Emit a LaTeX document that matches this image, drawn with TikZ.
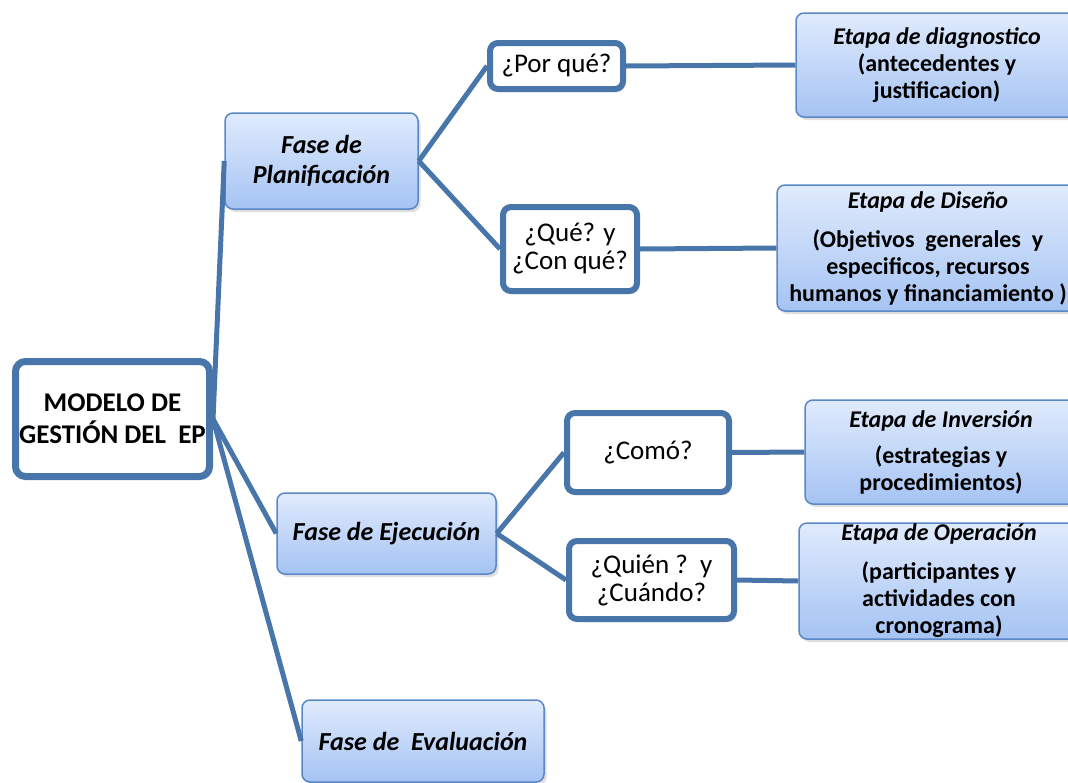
\documentclass[tikz,border=0pt]{standalone}
\usepackage{fontspec}
\setmainfont{Carlito}
\usetikzlibrary{shadows}
\definecolor{linkblue}{RGB}{72,117,170}
\definecolor{paleblue}{RGB}{224,235,253}
\definecolor{midblue}{RGB}{165,195,243}
\definecolor{rimblue}{RGB}{90,135,198}

\begin{document}
\begin{tikzpicture}[x=1pt,y=-1pt]
    \tikzstyle{every node}+=[inner sep=0pt, align=center]
    \tikzstyle{boxshadow}=[drop shadow={opacity=0.25, shadow xshift=2.5pt, shadow yshift=-3pt}]
    \tikzstyle{mainbox}=[draw=linkblue, line width=7pt, fill=white, rounded corners=10pt, boxshadow, font=\fontsize{27}{32}\selectfont\bfseries]
    \tikzstyle{askbox}=[draw=linkblue, line width=6pt, fill=white, rounded corners=8pt, boxshadow, font=\fontsize{27}{28}\selectfont]
    \tikzstyle{phasebox}=[draw=rimblue, line width=1.5pt, top color=paleblue, bottom color=midblue, rounded corners=8pt, boxshadow, font=\fontsize{26}{30}\selectfont\bfseries\itshape]
    \tikzstyle{stagebox}=[draw=rimblue, line width=1.5pt, top color=paleblue, bottom color=midblue, rounded corners=8pt, boxshadow, font=\fontsize{24}{27}\selectfont\bfseries]
    \tikzstyle{link}=[draw=linkblue, line width=5pt]
    \useasboundingbox (0,0) rectangle (1068,782);
    \node [mainbox, minimum width=194pt, minimum height=115pt] (modelo) at (112.5,419) {MODELO DE\\GESTIÓN DEL~~EP};
    \node [phasebox, minimum width=193pt, minimum height=96pt] (plan) at (321.5,161) {Fase de\\Planificación};
    \node [phasebox, minimum width=219pt, minimum height=81pt] (ejec) at (386.5,533.5) {Fase de Ejecución};
    \node [phasebox, minimum width=242pt, minimum height=82pt] (eval) at (423,741) {Fase de~~Evaluación};
    \node [askbox, minimum width=133pt, minimum height=46pt] (porque) at (556.5,66) {¿Por qué?};
    \node [askbox, minimum width=134pt, minimum height=84pt] (quecon) at (570,249) {¿Qué? y\\¿Con qué?};
    \node [askbox, minimum width=162pt, minimum height=79pt] (como) at (648,452.5) {¿Comó?};
    \node [askbox, minimum width=165pt, minimum height=78pt] (quien) at (651.5,580) {¿Quién ?~~y\\¿Cuándo?};
    \node [stagebox, minimum width=282pt, minimum height=104pt] (diag) at (937,65) {\textit{Etapa de diagnostico}\\(antecedentes y\\justificacion)};
    \node [stagebox, minimum width=302pt, minimum height=126pt] (diseno) at (928,248) {\textit{Etapa de Diseño}\\[12pt](Objetivos~~generales~~y\\especificos, recursos\\humanos y financiamiento~)};
    \node [stagebox, minimum width=272pt, minimum height=104pt] (inver) at (941,452) {\textit{Etapa de Inversión}\\[9pt](estrategias y\\procedimientos)};
    \node [stagebox, minimum width=280pt, minimum height=116pt] (opera) at (939,581) {\textit{Etapa de Operación}\\[12pt](participantes y\\actividades con\\cronograma)};
    \draw [link] (modelo.east) -- (plan.west);
    \draw [link] (modelo.east) -- (ejec.west);
    \draw [link] (modelo.east) -- (eval.west);
    \draw [link] (plan.east) -- (porque.west);
    \draw [link] (plan.east) -- (quecon.west);
    \draw [link] (ejec.east) -- (como.west);
    \draw [link] (ejec.east) -- (quien.west);
    \draw [link] (porque.east) -- (diag.west);
    \draw [link] (quecon.east) -- (diseno.west);
    \draw [link] (como.east) -- (inver.west);
    \draw [link] (quien.east) -- (opera.west);
\end{tikzpicture}
\end{document}
